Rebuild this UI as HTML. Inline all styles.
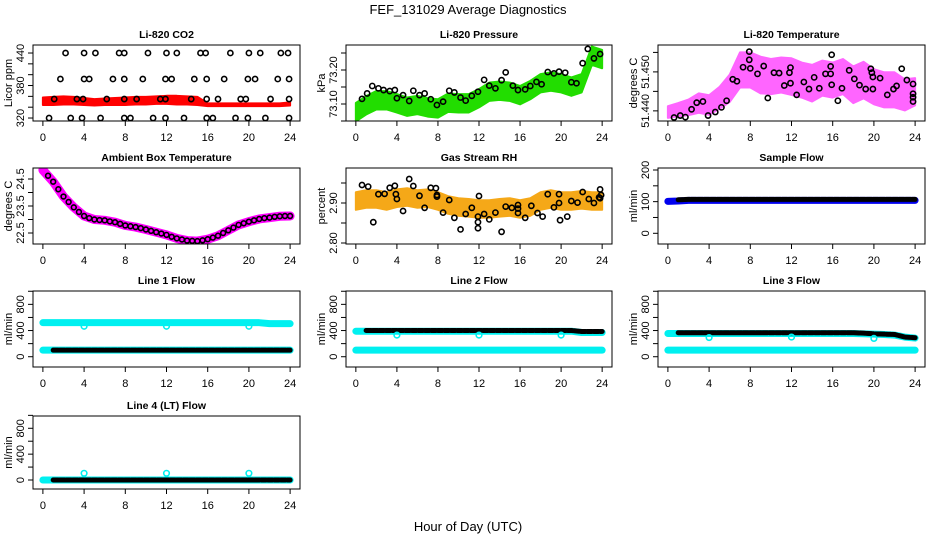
<!DOCTYPE html>
<html><head><meta charset="utf-8"><style>
html,body{margin:0;padding:0;background:#fff;}
svg{display:block;font-family:"Liberation Sans",Arial,sans-serif;}
</style></head><body>
<svg id="chart" width="936" height="540" viewBox="0 0 936 540">
<text x="468" y="14" text-anchor="middle" font-size="13">FEF_131029  Average Diagnostics</text>
<text x="468" y="531" text-anchor="middle" font-size="13">Hour of Day (UTC)</text>
</svg>
<script>
// ---------- data ----------
const hours = [0,1,2,3,4,5,6,7,8,9,10,11,12,13,14,15,16,17,18,19,20,21,22,23,24];
const xTicks = [0,4,8,12,16,20,24];

const co2Lower = [344,344,345,345,344,343,344,344,344,345,345,346,346,345,345,344,342,342,342,342,342,342,342,342,343];
const co2Upper = [358,359,360,359,357,355,356,357,358,359,359,360,361,361,360,359,347,347,347,347,347,347,347,347,349];
const co2BlackHours = [2.2,4,5.1,7.4,7.9,10.2,12,13,15.3,15.8,18.2,20,21.1,23.1,23.8, 1.7,4,4.5,6.8,7.9,9.7,11.9,12.5,14.7,15.9,17.6,19.9,20.6,22.8,23.9, 1.1,3.3,3.9,6.2,7.9,9.1,11.4,11.9,14.4,15.9,17,19.2,19.7,22.1,23.9, 0.6,2.7,3.8,5.6,7.9,8.5,10.7,11.9,13.7,15.9,16.5,18.7,19.9,21.6,23.9];
const co2BlackVals = [440,440,440,440,440,440,440,440,440,440,440,440,440,440,440, 392,392,392,392,392,392,392,392,392,392,392,392,392,392,392, 355,355,355,355,355,355,355,355,355,355,355,355,355,355,355, 320,320,320,320,320,320,320,320,320,320,320,320,320,320,320];

const presCenter = [73.076,73.096,73.111,73.111,73.102,73.092,73.097,73.090,73.087,73.104,73.102,73.102,73.117,73.136,73.139,73.136,73.126,73.141,73.161,73.166,73.161,73.151,73.161,73.242,73.232];
const presHalf = 0.027;
const presBlackHours = [0.6,1.1,1.6,2.2,2.7,3.3,3.8,4.0,4.6,5.2,5.6,6.2,6.7,7.3,7.9,8.5,9.1,9.6,10.2,10.7,11.3,11.9,12.5,13.0,13.6,14.2,14.6,15.3,15.8,16.5,17.0,17.6,18.1,18.7,19.3,19.8,20.4,21.0,21.5,22.1,22.6,23.2,23.8];
const presBlackVals = [73.115,73.131,73.153,73.146,73.141,73.138,73.141,73.117,73.126,73.109,73.139,73.126,73.131,73.114,73.097,73.107,73.139,73.134,73.119,73.110,73.124,73.136,73.171,73.154,73.146,73.170,73.193,73.154,73.141,73.143,73.153,73.165,73.158,73.194,73.190,73.195,73.192,73.164,73.161,73.220,73.262,73.234,73.247];

const ltCenter = [51.4397,51.4403,51.4409,51.4420,51.4415,51.4433,51.4458,51.4505,51.4505,51.4492,51.4488,51.4492,51.4488,51.4479,51.4471,51.4484,51.4479,51.4488,51.4467,51.4479,51.4462,51.4454,51.4454,51.4441,51.4449];
const ltHalf = [0.0015,0.0017,0.002,0.0025,0.0025,0.0028,0.0035,0.0045,0.0045,0.0047,0.0045,0.0045,0.0047,0.0045,0.0047,0.0045,0.0045,0.0045,0.0047,0.0047,0.0045,0.0045,0.0045,0.004,0.0035];
const ltBlackHours = [0.6,1.2,1.7,2.3,2.8,3.4,3.9,4.6,5.2,5.7,6.3,6.7,7.3,7.9,7.9,8.0,8.7,9.3,9.7,10.3,10.8,11.3,11.8,11.9,11.9,12.5,13.2,13.7,14.2,14.7,15.3,15.8,15.8,15.9,15.9,16.5,16.9,17.6,18.1,18.6,19.2,19.7,19.8,19.9,19.9,20.6,21.3,21.9,22.2,22.7,23.2,23.8,23.8,23.8,23.8];
const ltBlackVals = [51.4383,51.4388,51.4384,51.4404,51.4421,51.4424,51.4388,51.4397,51.4409,51.4426,51.4481,51.4476,51.4512,51.4552,51.4531,51.4509,51.4495,51.4515,51.4433,51.4498,51.4497,51.4465,51.4498,51.4511,51.4471,51.4441,51.4474,51.4456,51.4486,51.4458,51.4495,51.4495,51.4514,51.4544,51.4467,51.4426,51.4458,51.4504,51.4482,51.4466,51.4456,51.4508,51.4498,51.4456,51.4487,51.4484,51.4441,51.4456,51.4464,51.4508,51.4479,51.4469,51.4444,51.4424,51.4435];

const ambVals = [24.83,24.4,23.85,23.45,23.13,23.0,22.97,22.9,22.78,22.72,22.63,22.53,22.43,22.3,22.22,22.2,22.27,22.4,22.6,22.8,22.92,23.02,23.07,23.12,23.13];
const ambBlackHours = [0.5,1,1.5,2,2.5,3,3.5,4,4.5,5,5.5,6,6.5,7,7.5,8,8.5,9,9.5,10,10.5,11,11.5,12,12.5,13,13.5,14,14.5,15,15.5,16,16.5,17,17.5,18,18.5,19,19.5,20,20.5,21,21.5,22,22.5,23,23.5,24];
const ambBlackVals = [24.62,24.4,24.12,23.85,23.65,23.45,23.28,23.13,23.05,23.0,22.98,22.97,22.93,22.9,22.84,22.78,22.75,22.72,22.68,22.63,22.58,22.53,22.48,22.43,22.36,22.3,22.26,22.22,22.21,22.2,22.23,22.27,22.33,22.4,22.5,22.6,22.7,22.8,22.86,22.92,22.97,23.02,23.05,23.07,23.1,23.12,23.13,23.13];

const rhCenter = [2.905,2.91,2.91,2.905,2.912,2.915,2.91,2.912,2.905,2.895,2.89,2.888,2.885,2.885,2.888,2.89,2.885,2.89,2.905,2.91,2.905,2.905,2.908,2.905,2.905];
const rhHalf = 0.022;
const rhBlackHours = [0.6,1.2,1.7,2.2,2.8,3.3,3.8,3.9,4.0,4.6,5.2,5.6,6.2,6.7,7.3,7.8,7.9,7.9,8.5,9.1,9.6,10.2,10.7,11.3,11.9,11.9,11.9,12.0,12.5,13.0,13.6,14.2,14.6,15.2,15.8,15.8,15.8,16.5,17.1,17.7,18.2,18.7,19.3,19.8,19.8,19.9,20.6,21.0,21.6,22.1,22.7,23.2,23.8,23.8,23.9,23.7];
const rhBlackVals = [2.945,2.941,2.852,2.922,2.923,2.938,2.943,2.922,2.91,2.88,2.96,2.9425,2.918,2.888,2.938,2.937,2.92,2.916,2.876,2.9075,2.863,2.834,2.8725,2.888,2.866,2.852,2.837,2.9175,2.8725,2.859,2.876,2.828,2.891,2.888,2.895,2.886,2.875,2.863,2.893,2.875,2.866,2.922,2.889,2.922,2.90,2.857,2.866,2.905,2.901,2.9275,2.91,2.90,2.934,2.912,2.92,2.914];

const sampleBlue  = [101,102,104,104,104,104,104,104,104,104,104,104,104,104,104,104,104,104,104,104,104,104,104,104,104];
const sampleBlack = [106,106,107,107,107,107,107,107,107,107,107,107,107,107,107,107,107,107,107,107,107,107,107,107,107];

const l1CyanTop = [520,520,520,520,520,520,520,520,520,520,520,520,520,520,520,520,520,520,520,520,520,520,505,505,505];
const l1Black   = [100,100,100,100,100,100,100,100,100,100,100,100,100,100,100,100,100,100,100,100,100,100,100,100,100];
const l1CyanLow = [100,100,100,100,100,100,100,100,100,100,100,100,100,100,100,100,100,100,100,100,100,100,100,100,100];
const l1DipHours = [4,12,20];
const l1DipVals  = [466,466,466];

const l2CyanTop = [390,390,390,390,390,390,390,390,390,390,390,390,390,390,390,390,390,390,390,390,390,390,370,370,370];
const l2Black   = [400,400,400,400,400,400,400,400,400,400,400,400,400,400,400,400,400,400,400,400,400,400,385,385,385];
const l2CyanLow = [100,100,100,100,100,100,100,100,100,100,100,100,100,100,100,100,100,100,100,100,100,100,100,100,100];
const l2DipHours = [4,12,20];
const l2DipVals  = [330,330,330];

const l3CyanTop = [355,355,355,355,355,355,355,355,355,355,355,355,355,355,355,355,355,355,355,350,345,340,330,300,285];
const l3Black   = [366,366,366,366,366,366,366,366,366,366,366,366,366,366,366,366,366,366,366,360,350,345,340,300,290];
const l3CyanLow = [100,100,100,100,100,100,100,100,100,100,100,100,100,100,100,100,100,100,100,100,100,100,100,100,100];
const l3DipHours = [4,12,20];
const l3DipVals  = [293,300,280];

const l4Black = [0,0,0,0,0,0,0,0,0,0,0,0,0,0,0,0,0,0,0,0,0,0,0,0,0];
const l4Cyan  = [0,0,0,0,0,0,0,0,0,0,0,0,0,0,0,0,0,0,0,0,0,0,0,0,0];
const l4SpikeHours = [4,12,20];
const l4SpikeVals  = [104,104,104];

// ---------- drawing ----------
const NS = "http://www.w3.org/2000/svg";
const svg = document.getElementById("chart");
function el(tag, attrs, parent){
  const e = document.createElementNS(NS, tag);
  for (const k in attrs) e.setAttribute(k, attrs[k]);
  (parent||svg).appendChild(e);
  return e;
}
function panel(key, title, ylab, box, ydom, yticks, ylabels, fmt){
  const g = el("g", {});
  
  
  const xd = [-0.96, 24.96];
  const sx = v => box.l + (v - xd[0]) / (xd[1] - xd[0]) * (box.r - box.l);
  const sy = v => box.b - (v - ydom[0]) / (ydom[1] - ydom[0]) * (box.b - box.t);
  const t = el("text", {x:(box.l+box.r)/2, y:box.t-7, "text-anchor":"middle", "font-size":"10.5", "font-weight":"bold"}, g);
  t.textContent = title;
  
  
  const yl = el("text", {transform:`translate(${box.l-21},${(box.t+box.b)/2}) rotate(-90)`, "text-anchor":"middle", "font-size":"11"}, g);
  yl.textContent = ylab;
  
  
  const xa = el("g", {}, g);
  
  
  el("line", {x1:sx(xTicks[0]), x2:sx(xTicks[xTicks.length-1]), y1:box.b, y2:box.b, stroke:"#000"}, xa);
  xTicks.forEach(v=>{
    el("line", {x1:sx(v), x2:sx(v), y1:box.b, y2:box.b+5, stroke:"#000"}, xa);
    const tx = el("text", {x:sx(v), y:box.b+20, "text-anchor":"middle", "font-size":"11"}, xa);
    tx.textContent = v;
    
    
  });
  const ya = el("g", {}, g);
  
  
  yticks.forEach(v=>{
    el("line", {x1:box.l-5, x2:box.l, y1:sy(v), y2:sy(v), stroke:"#000"}, ya);
  });
  ylabels.forEach(v=>{
    const ty = el("text", {transform:`translate(${box.l-9},${sy(v)}) rotate(-90)`, "text-anchor":"middle", "font-size":"11"}, ya);
    ty.textContent = fmt(v);
    
    
  });
  const clipId = "clip-" + key;
  const cp = el("clipPath", {id:clipId}, g);
  el("rect", {x:box.l, y:box.t, width:box.r-box.l, height:box.b-box.t}, cp);
  const plot = el("g", {"clip-path":`url(#${clipId})`}, g);
  
  
  const frame = el("rect", {x:box.l, y:box.t, width:box.r-box.l, height:box.b-box.t, fill:"none", stroke:"#000"}, g);
  
  
  return {sx, sy, plot};
}
function band(p, xs, lo, hi, color, name, op){
  let d = "M" + xs.map((x,i)=>p.sx(x)+","+p.sy(hi[i])).join("L");
  d += "L" + xs.slice().reverse().map((x,j)=>{const i=xs.length-1-j; return p.sx(x)+","+p.sy(lo[i]);}).join("L") + "Z";
  const b = el("path", {d, fill:color, stroke:color, "stroke-width":"2", "stroke-linejoin":"round", opacity:op||1}, p.plot);
  
  
}
function thickLine(p, xs, ys, color, w, name, dash){
  const d = "M" + xs.map((x,i)=>p.sx(x)+","+p.sy(ys[i])).join("L");
  const a = {d, fill:"none", stroke:color, "stroke-width":w, "stroke-linecap":"round", "stroke-linejoin":"round"};
  if (dash) a["stroke-dasharray"] = dash;
  const l = el("path", a, p.plot);
  
  
}
function points(p, xs, ys, color, name, r){
  const g = el("g", {}, p.plot);
  
  
  xs.forEach((x,i)=>{
    const c = el("circle", {cx:p.sx(x), cy:p.sy(ys[i]), r:r||2.6, fill:"none", stroke:color, "stroke-width":"1.6"}, g);
    
    
  });
}
const rng = (a,b,s)=>{const o=[];for(let v=a;v<=b+1e-9;v+=s)o.push(+v.toFixed(4));return o;};
const add = (arr,h)=>arr.map(v=>v+h);
const addArr = (arr,h)=>arr.map((v,i)=>v+h[i]);

const C1={l:33,r:300}, C2={l:346,r:612}, C3={l:658,r:925};
const R1={t:45,b:121}, R2={t:168,b:244}, R3={t:291,b:367}, R4={t:416,b:489};
const B=(c,r)=>({l:c.l,r:c.r,t:r.t,b:r.b});

let p = panel("co2","Li-820 CO2","Licor ppm",B(C1,R1),[314.5,454.8],rng(320,440,20),[320,380,440],v=>v);
band(p,hours,co2Lower,co2Upper,"#ff0000","co2-red-series");
points(p,co2BlackHours,co2BlackVals,"#000","co2-black-series");

p = panel("pressure","Li-820 Pressure","kPa",B(C2,R1),[73.05,73.2735],rng(73.05,73.25,0.05),[73.10,73.20],v=>v.toFixed(2));
band(p,hours,add(presCenter,-presHalf),add(presCenter,presHalf),"#22dd00","pressure-green-series");
points(p,presBlackHours,presBlackVals,"#000","pressure-black-series");

p = panel("li-temp","Li-820 Temperature","degrees C",B(C3,R1),[51.4374,51.4569],rng(51.440,51.455,0.005),[51.440,51.450],v=>v.toFixed(3));
band(p,hours,addArr(ltCenter,ltHalf.map(v=>-v)),addArr(ltCenter,ltHalf),"#ff00ff","li-temp-magenta-series",0.6);
points(p,ltBlackHours,ltBlackVals,"#000","li-temp-black-series");

p = panel("ambient","Ambient Box Temperature","degrees C",B(C1,R2),[22.093,24.907],rng(22.5,24.5,0.5),[22.5,23.5,24.5],v=>v.toFixed(1));
thickLine(p,hours,ambVals,"#ff00ff",9,"ambient-magenta-series");
points(p,ambBlackHours,ambBlackVals,"#000","ambient-black-series",2.4);

p = panel("rh","Gas Stream RH","percent",B(C2,R2),[2.7975,2.9875],rng(2.80,2.95,0.05),[2.80,2.90],v=>v.toFixed(2));
band(p,hours,add(rhCenter,-rhHalf),add(rhCenter,rhHalf),"#f5a818","rh-orange-series");
points(p,rhBlackHours,rhBlackVals,"#000","rh-black-series");

p = panel("sample-flow","Sample Flow","ml/min",B(C3,R2),[-33.8,206.3],rng(0,200,50),[0,100,200],v=>v);
thickLine(p,hours,sampleBlue,"#0000ee",7,"sample-flow-blue-series");
thickLine(p,hours.slice(1),sampleBlack.slice(1),"#000",5,"sample-flow-black-series","5 1.5");

function flowPanel(key,title,box,ydom,top,black,low,dH,dV){
  const q = panel(key,title,"ml/min",box,ydom,rng(0,1000,200),[0,400,800],v=>v);
  thickLine(q,hours,top,"#00f0f0",7,key+"-cyan-top-series");
  thickLine(q,hours,low,"#00f0f0",7,key+"-cyan-low-series");
  thickLine(q,hours.slice(1),black,"#000",5,key+"-black-series","5 1.5");
  points(q,dH,dV,"#00f0f0",key+"-cyan-dips",2.8);
  return q;
}
flowPanel("line1-flow","Line 1 Flow",B(C1,R3),[-157,1004],l1CyanTop,l1Black.slice(1),l1CyanLow,l1DipHours,l1DipVals);
flowPanel("line2-flow","Line 2 Flow",B(C2,R3),[-157,1004],l2CyanTop,l2Black.slice(1),l2CyanLow,l2DipHours,l2DipVals);
flowPanel("line3-flow","Line 3 Flow",B(C3,R3),[-157,1004],l3CyanTop,l3Black.slice(1),l3CyanLow,l3DipHours,l3DipVals);
p = panel("line4-flow","Line 4 (LT) Flow","ml/min",B(C1,R4),[-139,990],rng(0,1000,200),[0,400,800],v=>v);
thickLine(p,hours,l4Cyan,"#00f0f0",7,"line4-cyan-series");
thickLine(p,hours.slice(1),l4Black.slice(1),"#000",5,"line4-black-series","5 1.5");
points(p,l4SpikeHours,l4SpikeVals,"#00f0f0","line4-cyan-spikes",2.8);
</script>
</body></html>
